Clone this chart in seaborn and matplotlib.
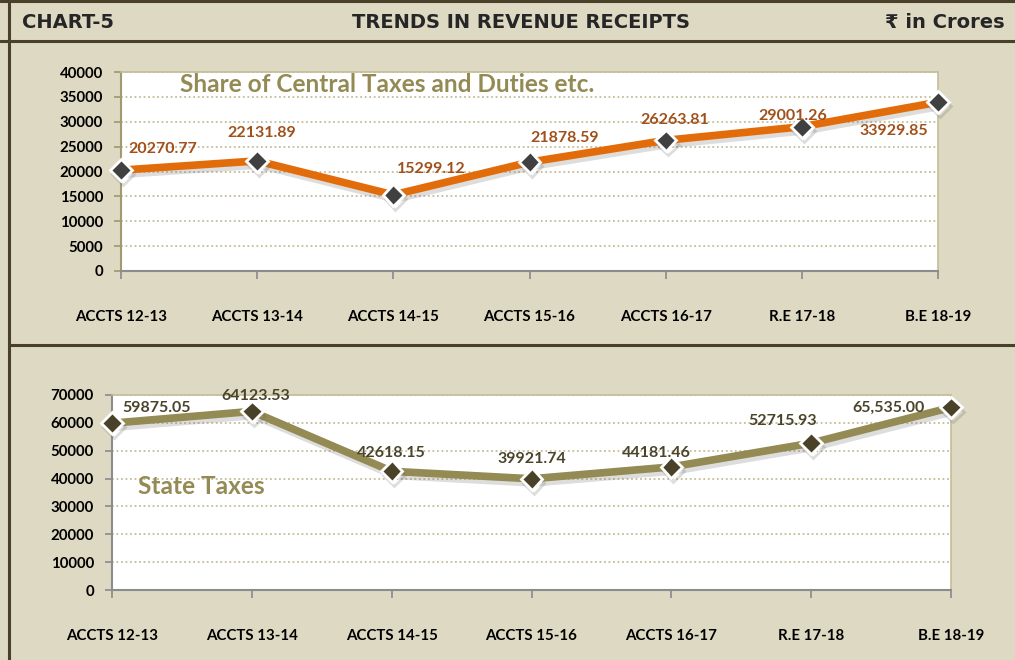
import pandas as pd
import numpy as np
import matplotlib.pyplot as plt
import matplotlib.patheffects as pe
from matplotlib.lines import Line2D
import seaborn as sns

# data
years = ['ACCTS 12-13', 'ACCTS 13-14', 'ACCTS 14-15', 'ACCTS 15-16',
         'ACCTS 16-17', 'R.E 17-18', 'B.E 18-19']
central_share = [20270.77, 22131.89, 15299.12, 21878.59, 26263.81, 29001.26, 33929.85]
central_labels = ['20270.77', '22131.89', '15299.12', '21878.59', '26263.81', '29001.26', '33929.85']
state_taxes = [59875.05, 64123.53, 42618.15, 39921.74, 44181.46, 52715.93, 65535.00]
state_labels = ['59875.05', '64123.53', '42618.15', '39921.74', '44181.46', '52715.93', '65,535.00']

# label offsets (pixels) relative to each point
central_off = [(42, 21), (5, 28), (38, 26), (35, 24), (9, 20), (-9, 11), (-44, -29)]
state_off = [(45, 15), (4, 15), (0, 18), (0, 20), (-15, 14), (-29, 22), (-62, 0)]

BG = '#DDD9C3'
FRAME = '#4A3F28'
GRID = '#C4BD97'
ORANGE = '#E36C0A'
OLIVE = '#948A54'

sns.set_theme(style='white')
plt.rcParams['font.family'] = ['Lato', 'DejaVu Sans']

fig = plt.figure(figsize=(10.15, 6.6), dpi=100)
fig.patch.set_facecolor(BG)

W, H = 1015, 660
def fx(x): return x / W
def fy(y): return 1 - y / H

# frame lines
for (x0, y0, x1, y1) in [(0, 1, W, 1), (9, 0, 9, H), (0, 41, W, 41), (9, 345, W, 345)]:
    fig.add_artist(Line2D([fx(x0), fx(x1)], [fy(y0), fy(y1)], color=FRAME, lw=2.2))

hdr = dict(fontsize=14, fontweight='bold', color='#262626', va='center',
           family=['DejaVu Sans'])
fig.text(fx(22), fy(22), 'CHART-5', ha='left', **hdr)
fig.text(fx(521), fy(22), 'TRENDS IN REVENUE RECEIPTS', ha='center', **hdr)
fig.text(fx(1005), fy(22), '₹ in Crores', ha='right', **hdr)

shadow = [pe.SimpleLineShadow(offset=(1.5, -3), shadow_color='#666666', alpha=0.22), pe.Normal()]


def draw_panel(rect, values, labels, offs, line_color, mk_color, lab_color,
               ymax, ystep, spine_color, title, title_xy):
    ax = fig.add_axes(rect)
    ax.set_facecolor('white')
    df = pd.DataFrame({'year': years, 'value': values})
    sns.lineplot(data=df, x='year', y='value', ax=ax, color=line_color, lw=5.5,
                 marker='D', markersize=11, markerfacecolor=mk_color,
                 markeredgecolor='white', markeredgewidth=2, sort=False,
                 path_effects=shadow, clip_on=False, zorder=3)
    ax.set_xlim(0, len(years) - 1)
    ax.set_ylim(0, ymax)
    ax.set_yticks(np.arange(0, ymax + 1, ystep))
    ax.yaxis.grid(True, color=GRID, ls=(0, (1, 1.5)), lw=1.3)
    ax.xaxis.grid(False)
    ax.set_xlabel('')
    ax.set_ylabel('')
    for s in ['top', 'right']:
        ax.spines[s].set_color(GRID)
        ax.spines[s].set_linewidth(1.2)
    ax.spines['left'].set_color(spine_color)
    ax.spines['left'].set_linewidth(1.5)
    ax.spines['bottom'].set_color('#8C8C8C')
    ax.spines['bottom'].set_linewidth(1.5)
    ax.tick_params(axis='y', left=True, length=5, color=spine_color, labelsize=10.8, pad=8)
    ax.tick_params(axis='x', bottom=True, length=6, color='#8C8C8C', labelsize=10.8, pad=22)
    for t in ax.get_xticklabels() + ax.get_yticklabels():
        t.set_fontweight('bold')
        t.set_color('black')
    for i, (v, lab) in enumerate(zip(values, labels)):
        ax.annotate(lab, (i, v), xytext=offs[i], textcoords='offset pixels',
                    ha='center', va='center', fontsize=11.5, fontweight='bold',
                    color=lab_color, zorder=5)
    fig.text(fx(title_xy[0]), fy(title_xy[1]), title, ha='left', va='center',
             fontsize=17.6, fontweight='bold', color=OLIVE)
    return ax


draw_panel([fx(121), fy(271), fx(938) - fx(121), fy(72) - fy(271)],
           central_share, central_labels, central_off, ORANGE, '#404040', '#A0501A',
           40000, 5000, '#A09A70', 'Share of Central Taxes and Duties etc.', (180, 85))

draw_panel([fx(112), fy(590), fx(951) - fx(112), fy(395) - fy(590)],
           state_taxes, state_labels, state_off, OLIVE, '#4A4228', '#4A452A',
           70000, 10000, '#8C8C8C', 'State Taxes', (138, 487))

fig.savefig('out.png', dpi=100, facecolor=BG)
